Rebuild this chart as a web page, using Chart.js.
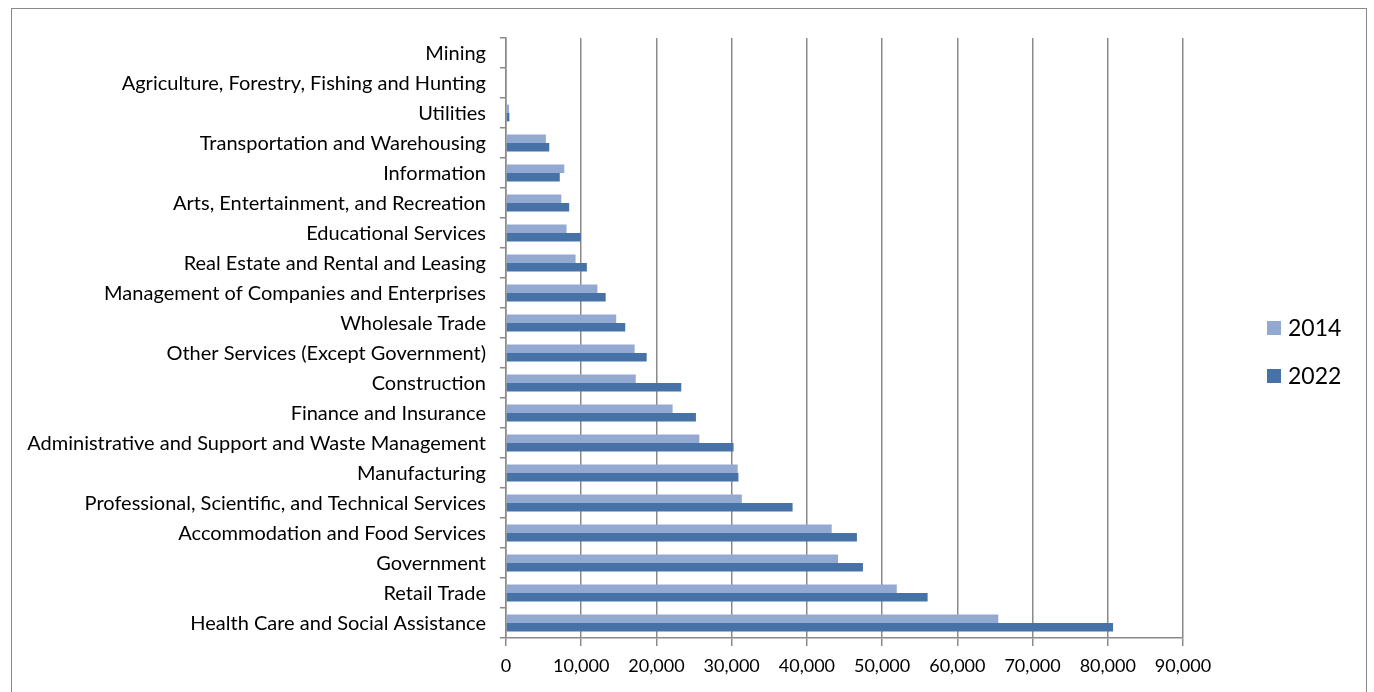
<!DOCTYPE html>
<html>
<head>
<meta charset="utf-8">
<script src="https://cdn.jsdelivr.net/npm/chart.js@4.4.1/dist/chart.umd.min.js"></script>
<style>
  html, body { margin: 0; padding: 0; background: #fff; overflow: hidden; }
  #wrap { position: absolute; left: 0; top: 0; width: 1374px; height: 692px; }
  #frame { position: absolute; left: 11px; top: 8px; width: 1356px; height: 720px;
           border: 1px solid #8a8a8a; box-sizing: border-box; }
  canvas { position: absolute; left: 0; top: 0; }
</style>
</head>
<body>
<div id="wrap">
  <div id="frame"></div>
  <canvas id="c" width="1374" height="692"></canvas>
</div>
<script>
// Employment by industry, top to bottom as drawn
const industries = [
  'Mining',
  'Agriculture, Forestry, Fishing and Hunting',
  'Utilities',
  'Transportation and Warehousing',
  'Information',
  'Arts, Entertainment, and Recreation',
  'Educational Services',
  'Real Estate and Rental and Leasing',
  'Management of Companies and Enterprises',
  'Wholesale Trade',
  'Other Services (Except Government)',
  'Construction',
  'Finance and Insurance',
  'Administrative and Support and Waste Management',
  'Manufacturing',
  'Professional, Scientific, and Technical Services',
  'Accommodation and Food Services',
  'Government',
  'Retail Trade',
  'Health Care and Social Assistance'
];

const jobs2014 = [0, 0, 400, 5300, 7750, 7350, 8050, 9250, 12150, 14650,
                  17100, 17250, 22150, 25700, 30800, 31350, 43300, 44150, 51950, 65450];
const jobs2022 = [0, 0, 450, 5750, 7150, 8400, 9950, 10750, 13250, 15850,
                  18700, 23300, 25250, 30250, 30900, 38100, 46650, 47450, 56050, 80700];

const seriesNames = ['2014', '2022'];
const seriesColors = ['#93a9d2', '#4672a8'];

const xMin = 0;
const xMax = 90000;
const xStep = 10000;

const FONT = 'Lato, "Open Sans", sans-serif';
const GRID = '#8a8a8a';

// Legend drawn to the right of the plot area
const sideLegend = {
  id: 'sideLegend',
  afterDraw(chart) {
    const ctx = chart.ctx;
    const a = chart.chartArea;
    const bx = a.right + 84;
    const y0 = a.top + 290;
    const gap = 48;
    ctx.save();
    ctx.font = '23px ' + FONT;
    ctx.textBaseline = 'middle';
    ctx.textAlign = 'left';
    chart.data.datasets.forEach((ds, i) => {
      const yc = y0 + i * gap;
      ctx.fillStyle = ds.backgroundColor;
      ctx.fillRect(bx, yc - 7, 14, 14);
      ctx.fillStyle = '#000';
      ctx.fillText(ds.label, bx + 21, yc + 1);
    });
    ctx.restore();
  }
};

new Chart(document.getElementById('c'), {
  type: 'bar',
  data: {
    labels: industries,
    datasets: [
      { label: seriesNames[0], data: jobs2014, backgroundColor: seriesColors[0] },
      { label: seriesNames[1], data: jobs2022, backgroundColor: seriesColors[1] }
    ]
  },
  options: {
    indexAxis: 'y',
    responsive: false,
    animation: false,
    events: [],
    datasets: {
      bar: { categoryPercentage: 0.56, barPercentage: 1.0 }
    },
    layout: { padding: { left: 0, top: 38, right: 191, bottom: 0 } },
    plugins: {
      legend: { display: false },
      tooltip: { enabled: false }
    },
    scales: {
      x: {
        type: 'linear',
        position: 'bottom',
        min: xMin,
        max: xMax,
        afterFit(scale) { scale.height = 54; },
        ticks: {
          stepSize: xStep,
          color: '#000',
          padding: 9,
          font: { family: FONT, size: 18 },
          callback: v => v.toLocaleString('en-US')
        },
        grid: { color: GRID, lineWidth: 1.5, tickLength: 8, drawTicks: true },
        border: { color: GRID, width: 1.5 }
      },
      y: {
        type: 'category',
        offset: true,
        afterFit(scale) { scale.width = 506; },
        ticks: {
          color: '#000',
          padding: 14,
          labelOffset: 1,
          autoSkip: false,
          font: { family: FONT, size: 20 }
        },
        grid: { offset: true, drawOnChartArea: false, drawTicks: true, tickLength: 6, color: GRID, lineWidth: 1.5 },
        border: { color: GRID, width: 1.5 }
      }
    }
  },
  plugins: [sideLegend]
});
</script>
</body>
</html>
